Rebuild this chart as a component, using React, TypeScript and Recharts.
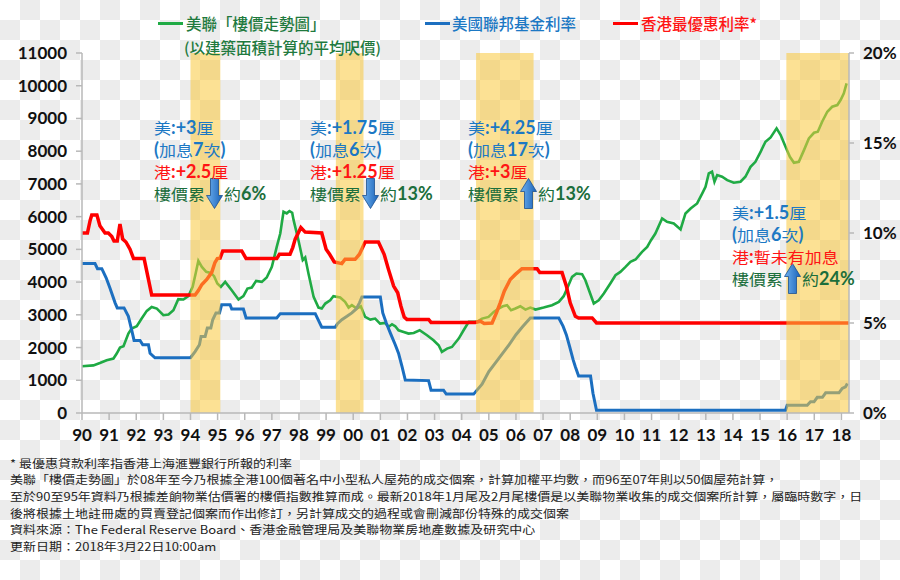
import React from "react";
import { LineChart, Line, XAxis, YAxis, ReferenceArea } from "recharts";

// ---------- data ----------
const yearTicks = [1990, 1991, 1992, 1993, 1994, 1995, 1996, 1997, 1998, 1999, 2000, 2001, 2002, 2003, 2004, 2005, 2006, 2007, 2008, 2009, 2010, 2011, 2012, 2013, 2014, 2015, 2016, 2017, 2018];
const priceTicks = [0, 1000, 2000, 3000, 4000, 5000, 6000, 7000, 8000, 9000, 10000, 11000];
const rateTicks = [0, 5, 10, 15, 20];

// 美聯「樓價走勢圖」 [year, 呎價]
const priceIndex: [number, number][] = [
  [1990.0, 1428], [1990.42, 1456], [1990.66, 1529], [1990.91, 1612], [1991.16, 1663], [1991.28, 1816], [1991.4, 2000], [1991.53, 2040],
  [1991.71, 2428], [1991.83, 2581], [1992.02, 2650], [1992.2, 2887], [1992.39, 3120], [1992.57, 3242], [1992.76, 3190], [1993.0, 2988],
  [1993.19, 3008], [1993.37, 3141], [1993.55, 3477], [1993.74, 3467], [1993.92, 3569], [1994.08, 3853], [1994.19, 4263], [1994.29, 4648],
  [1994.42, 4465], [1994.58, 4312], [1994.75, 4282], [1994.87, 4180], [1994.99, 3957], [1995.12, 3853], [1995.28, 4006], [1995.52, 3751],
  [1995.77, 3467], [1995.95, 3569], [1996.1, 3802], [1996.26, 3833], [1996.42, 4037], [1996.63, 4006], [1996.81, 4139], [1997.0, 4465],
  [1997.18, 5076], [1997.31, 5484], [1997.43, 6150], [1997.55, 6100], [1997.65, 6170], [1997.75, 6120], [1997.8, 5900], [1997.98, 5281],
  [1998.14, 4670], [1998.23, 4750], [1998.35, 4263], [1998.54, 3547], [1998.72, 3222], [1998.84, 3192], [1998.97, 3344], [1999.15, 3446],
  [1999.27, 3569], [1999.52, 3528], [1999.7, 3395], [1999.83, 3222], [1999.95, 3294], [2000.13, 3192], [2000.28, 3262], [2000.44, 2936],
  [2000.63, 2855], [2000.81, 2886], [2000.99, 2733], [2001.18, 2753], [2001.3, 2630], [2001.43, 2712], [2001.55, 2650], [2001.67, 2528],
  [2001.86, 2477], [2002.04, 2426], [2002.23, 2446], [2002.45, 2528], [2002.72, 2375], [2002.96, 2222], [2003.15, 2070], [2003.27, 1866],
  [2003.46, 1967], [2003.64, 2018], [2003.89, 2273], [2004.07, 2528], [2004.26, 2783], [2004.56, 2783], [2004.75, 2885], [2004.99, 2936],
  [2005.18, 3089], [2005.36, 3192], [2005.52, 3262], [2005.67, 3294], [2005.82, 3141], [2005.98, 3192], [2006.16, 3262], [2006.35, 3160],
  [2006.53, 3222], [2006.72, 3160], [2007.02, 3222], [2007.33, 3294], [2007.58, 3395], [2007.76, 3569], [2007.91, 3853], [2008.07, 4160],
  [2008.23, 4263], [2008.44, 4243], [2008.56, 4058], [2008.75, 3620], [2008.87, 3344], [2009.05, 3446], [2009.24, 3651], [2009.48, 3957],
  [2009.67, 4210], [2009.85, 4312], [2010.04, 4465], [2010.22, 4618], [2010.41, 4689], [2010.65, 4924], [2010.84, 5076], [2010.98, 5281],
  [2011.14, 5484], [2011.39, 5944], [2011.57, 5842], [2011.82, 5791], [2012.07, 5608], [2012.25, 6097], [2012.44, 6250], [2012.68, 6403],
  [2012.87, 6709], [2012.99, 6913], [2013.11, 7321], [2013.23, 7372], [2013.32, 7066], [2013.42, 7270], [2013.6, 7219], [2013.79, 7117],
  [2014.03, 7035], [2014.28, 7066], [2014.46, 7219], [2014.65, 7523], [2014.83, 7675], [2015.02, 7981], [2015.2, 8287], [2015.39, 8420],
  [2015.61, 8697], [2015.76, 8491], [2015.94, 8134], [2016.1, 7828], [2016.25, 7645], [2016.43, 7675], [2016.62, 8032], [2016.8, 8389],
  [2016.99, 8563], [2017.13, 8593], [2017.29, 8899], [2017.48, 9205], [2017.66, 9358], [2017.85, 9409], [2017.97, 9562], [2018.09, 9767],
  [2018.19, 10073],
];

// 美國聯邦基金利率 [year, %]
const fedFunds: [number, number][] = [
  [1990.0, 8.3], [1990.48, 8.3], [1990.57, 8.02], [1990.73, 8.02], [1990.89, 7.51], [1991.03, 6.95], [1991.22, 6.12], [1991.3, 5.84],
  [1991.55, 5.84], [1991.71, 5.37], [1991.83, 4.62], [1991.92, 4.03], [1992.14, 4.03], [1992.24, 3.79], [1992.45, 3.79], [1992.51, 3.32],
  [1992.69, 3.07], [1994.0, 3.07], [1994.17, 3.41], [1994.33, 3.79], [1994.39, 4.25], [1994.54, 4.25], [1994.62, 4.72], [1994.75, 4.72],
  [1994.82, 5.18], [1994.94, 5.56], [1995.07, 5.56], [1995.15, 6.02], [1995.46, 6.02], [1995.52, 5.78], [1995.95, 5.78], [1996.05, 5.28],
  [1997.18, 5.28], [1997.31, 5.52], [1998.6, 5.52], [1998.84, 4.77], [1999.34, 4.77], [1999.42, 4.96], [1999.58, 5.18], [1999.77, 5.37],
  [1999.95, 5.56], [2000.11, 5.78], [2000.23, 6.12], [2000.32, 6.45], [2001.0, 6.45], [2001.09, 5.56], [2001.22, 5.0], [2001.37, 4.44],
  [2001.55, 3.79], [2001.67, 3.32], [2001.8, 2.57], [2001.92, 1.83], [2002.78, 1.8], [2002.87, 1.27], [2003.33, 1.27], [2003.43, 1.05],
  [2004.44, 1.05], [2004.75, 1.6], [2005.0, 2.3], [2005.25, 2.8], [2005.5, 3.3], [2005.75, 3.8], [2006.0, 4.35], [2006.25, 4.8],
  [2006.53, 5.28], [2007.58, 5.28], [2007.74, 4.81], [2007.86, 4.34], [2007.98, 3.69], [2008.11, 2.95], [2008.19, 2.57], [2008.31, 2.05],
  [2008.75, 2.05], [2008.84, 1.1], [2008.97, 0.15], [2015.94, 0.15], [2016.0, 0.43], [2016.74, 0.43], [2016.86, 0.62], [2016.99, 0.62],
  [2017.11, 0.87], [2017.3, 0.87], [2017.42, 1.12], [2017.91, 1.12], [2018.03, 1.37], [2018.15, 1.45], [2018.22, 1.64],
];

// 香港最優惠利率 [year, %]
const hkPrime: [number, number][] = [
  [1990.0, 10.0], [1990.2, 10.0], [1990.3, 10.7], [1990.36, 11.0], [1990.55, 11.0], [1990.66, 10.4], [1990.85, 10.0], [1990.97, 10.0],
  [1991.1, 9.8], [1991.18, 9.56], [1991.3, 9.56], [1991.4, 10.5], [1991.5, 9.66], [1991.62, 9.5], [1991.77, 9.1], [1991.9, 8.58],
  [1992.29, 8.58], [1992.45, 7.42], [1992.57, 6.55], [1994.17, 6.55], [1994.29, 6.8], [1994.42, 7.14], [1994.6, 7.42], [1994.78, 7.8],
  [1994.9, 8.35], [1994.99, 8.58], [1995.09, 8.6], [1995.19, 9.0], [1995.89, 9.0], [1996.05, 8.58], [1997.18, 8.58], [1997.28, 8.82],
  [1997.67, 8.82], [1997.77, 9.19], [1997.86, 9.66], [1998.07, 10.3], [1998.23, 10.05], [1998.84, 10.0], [1999.0, 9.1], [1999.13, 8.82],
  [1999.3, 8.39], [1999.58, 8.3], [1999.7, 8.54], [2000.07, 8.54], [2000.23, 8.82], [2000.44, 9.5], [2000.93, 9.5], [2001.14, 8.82],
  [2001.3, 7.98], [2001.49, 7.05], [2001.64, 6.68], [2001.76, 5.93], [2001.88, 5.33], [2001.98, 5.2], [2002.78, 5.2], [2002.87, 5.03],
  [2004.5, 5.03], [2004.69, 5.1], [2004.83, 4.97], [2005.12, 5.0], [2005.28, 5.56], [2005.42, 6.12], [2005.57, 6.77], [2005.79, 7.42],
  [2005.98, 7.7], [2006.22, 8.02], [2006.78, 8.02], [2006.88, 7.8], [2007.7, 7.8], [2007.86, 7.05], [2008.0, 6.12], [2008.19, 5.37],
  [2008.31, 5.28], [2008.81, 5.28], [2008.97, 5.0], [2018.28, 5.0],
];

// 加息周期 (shaded)
const hikeStarts = [1994.0, 1999.36, 2004.53, 2015.97];
const hikeEnds = [1995.1, 2000.38, 2006.65, 2018.28];

const X_MIN = 1990;
const X_MAX = 2018.28;

const legendItems = [
  { label: "美聯「樓價走勢圖」", color: "#1f7a3e", line: "#1faa44" },
  { label: "美國聯邦基金利率", color: "#1c78c4", line: "#1c6fc0" },
  { label: "香港最優惠利率*", color: "#ff1414", line: "#ff0000" },
];

const footnotes = [
  "* 最優惠貸款利率指香港上海滙豐銀行所報的利率",
  "美聯「樓價走勢圖」於08年至今乃根據全港100個著名中小型私人屋苑的成交個案，計算加權平均數，而96至07年則以50個屋苑計算，",
  "至於90至95年資料乃根據差餉物業估價署的樓價指數推算而成。最新2018年1月尾及2月尾樓價是以美聯物業收集的成交個案所計算，屬臨時數字，日",
  "後將根據土地註冊處的買賣登記個案而作出修訂，另計算成交的過程或會刪減部份特殊的成交個案",
  "資料來源：The Federal Reserve Board、香港金融管理局及美聯物業房地產數據及研究中心",
  "更新日期：2018年3月22日10:00am",
];

const notes = [
  { left: 154, top: 116, us: "美:+3厘", times: "(加息7次)", hk: "港:+2.5厘", pre: "樓價累", up: false, post: "約6%" },
  { left: 310, top: 116, us: "美:+1.75厘", times: "(加息6次)", hk: "港:+1.25厘", pre: "樓價累", up: false, post: "約13%" },
  { left: 468, top: 116, us: "美:+4.25厘", times: "(加息17次)", hk: "港:+3厘", pre: "樓價累", up: true, post: "約13%" },
  { left: 732, top: 201, us: "美:+1.5厘", times: "(加息6次)", hk: "港:暫未有加息", pre: "樓價累", up: true, post: "約24%" },
];

// ---------- helpers ----------
const toRows = (pts: [number, number][]) => pts.map(([x, v]) => ({ x, v }));
const CJK = /([\u2E80-\u9FFF\uFF00-\uFFEF\u3000-\u303F]+)/;

function Rich({ text, size }: { text: string; size: number }) {
  const parts = text.split(CJK).filter((p) => p.length > 0);
  return (
    <>
      {parts.map((p, i) =>
        CJK.test(p) ? (
          <span
            key={i}
            style={{
              fontFamily: "'Noto Sans CJK TC'",
              fontWeight: 400,
              fontSize: size,
              display: "inline-block",
              lineHeight: 1,
              transform: "scaleY(0.89)",
            }}
          >
            {p}
          </span>
        ) : (
          <span key={i} style={{ fontFamily: "Lato", fontWeight: 700, fontSize: size + 1, display: "inline-block", lineHeight: 1 }}>{p}</span>
        )
      )}
    </>
  );
}

function Arrow({ up }: { up: boolean }) {
  const pts = up ? "8,0 16,13 12,13 12,30 4,30 4,13 0,13" : "4,0 12,0 12,17 16,17 8,30 0,17 4,17";
  return (
    <svg width={17} height={31} viewBox="-0.5 -0.5 17 31" style={{ display: "block", margin: "0 1px" }}>
      <defs>
        <linearGradient id={up ? "agu" : "agd"} x1="0" y1="0" x2="1" y2="0">
          <stop offset="0" stopColor="#6fb2f0" />
          <stop offset="1" stopColor="#1a62b8" />
        </linearGradient>
      </defs>
      <polygon points={pts} fill={`url(#${up ? "agu" : "agd"})`} stroke="#1a4f8f" strokeWidth={0.8} />
    </svg>
  );
}

const yearFmt = (v: number) => String(Math.round(v) % 100).padStart(2, "0");
const tickFont = { fill: "#111", fontSize: 17, fontWeight: 700, fontFamily: "Lato" };

export default function App() {
  return (
    <div
      style={{
        position: "absolute",
        left: 0,
        top: 0,
        width: 900,
        height: 580,
        overflow: "hidden",
        backgroundColor: "#fff",
        backgroundImage: "conic-gradient(#ececec 0 25%, #ffffff 0 50%, #ececec 0 75%, #ffffff 0)",
        backgroundSize: "40px 40px",
      }}
    >
      <div style={{ position: "absolute", left: 0, top: 0 }}>
        <LineChart width={900} height={580} margin={{ top: 53, right: 0, bottom: 137, left: 0 }}>
          <XAxis
            dataKey="x"
            type="number"
            xAxisId="x"
            domain={[X_MIN, X_MAX]}
            ticks={yearTicks}
            interval={0}
            tickFormatter={yearFmt}
            stroke="#b8b8b8"
            strokeWidth={1.5}
            tickSize={7}
            tickMargin={9}
            tick={tickFont}
            height={30}
          />
          <YAxis
            yAxisId="left"
            orientation="left"
            domain={[0, 11000]}
            ticks={priceTicks}
            interval={0}
            width={82}
            stroke="#b8b8b8"
            strokeWidth={1.5}
            tickSize={6}
            tickMargin={9}
            tick={tickFont}
          />
          <YAxis
            yAxisId="right"
            orientation="right"
            domain={[0, 20]}
            ticks={rateTicks}
            interval={0}
            width={51}
            tickFormatter={(v: number) => `${v}%`}
            stroke="#b8b8b8"
            strokeWidth={1.5}
            tickSize={5}
            tickMargin={9}
            tick={tickFont}
          />
          <Line data={toRows(priceIndex)} dataKey="v" xAxisId="x" yAxisId="left" type="linear" stroke="#1faa44" strokeWidth={2.6} dot={false} activeDot={false} isAnimationActive={false} />
          <Line data={toRows(fedFunds)} dataKey="v" xAxisId="x" yAxisId="right" type="linear" stroke="#1c6fc0" strokeWidth={3} dot={false} activeDot={false} isAnimationActive={false} />
          <Line data={toRows(hkPrime)} dataKey="v" xAxisId="x" yAxisId="right" type="linear" stroke="#ff0000" strokeWidth={3.5} dot={false} activeDot={false} isAnimationActive={false} />
          {hikeStarts.map((s, i) => (
            <ReferenceArea
              key={i}
              xAxisId="x"
              yAxisId="left"
              x1={s}
              x2={hikeEnds[i]}
              y1={0}
              y2={11000}
              fill="#f9c93c"
              fillOpacity={0.55}
              stroke="none"
              ifOverflow="visible"
              zIndex={450}
            />
          ))}
        </LineChart>
      </div>

      {/* legend */}
      <div style={{ position: "absolute", left: 158, top: 12, display: "flex", alignItems: "center", height: 22 }}>
        <div style={{ width: 25, height: 3, background: legendItems[0].line, marginRight: 3 }} />
        <span style={{ fontFamily: "'Noto Sans CJK TC'", fontWeight: 500, fontSize: 15.5, color: legendItems[0].color }}>{legendItems[0].label}</span>
      </div>
      <div style={{ position: "absolute", left: 184, top: 36, height: 22, display: "flex", alignItems: "center" }}>
        <span style={{ fontFamily: "'Noto Sans CJK TC'", fontWeight: 500, fontSize: 15.5, color: legendItems[0].color }}>(以建築面積計算的平均呎價)</span>
      </div>
      <div style={{ position: "absolute", left: 425, top: 12, display: "flex", alignItems: "center", height: 22 }}>
        <div style={{ width: 25, height: 3, background: legendItems[1].line, marginRight: 2 }} />
        <span style={{ fontFamily: "'Noto Sans CJK TC'", fontWeight: 500, fontSize: 15.5, color: legendItems[1].color }}>{legendItems[1].label}</span>
      </div>
      <div style={{ position: "absolute", left: 613, top: 12, display: "flex", alignItems: "center", height: 22 }}>
        <div style={{ width: 25, height: 3, background: legendItems[2].line, marginRight: 3 }} />
        <span style={{ fontFamily: "'Noto Sans CJK TC'", fontWeight: 500, fontSize: 15.5, color: legendItems[2].color }}>{legendItems[2].label}</span>
      </div>

      {/* annotations */}
      {notes.map((n, i) => (
        <div key={i} style={{ position: "absolute", left: n.left, top: n.top, whiteSpace: "nowrap" }}>
          <div style={{ color: "#1c78c4", height: 22, display: "flex", alignItems: "center" }}><Rich text={n.us} size={17} /></div>
          <div style={{ color: "#1c78c4", height: 22, display: "flex", alignItems: "center" }}><Rich text={n.times} size={17} /></div>
          <div style={{ color: "#ff1414", height: 22, display: "flex", alignItems: "center" }}><Rich text={n.hk} size={17} /></div>
          <div style={{ color: "#1b6e3c", height: 22, display: "flex", alignItems: "center" }}>
            <Rich text={n.pre} size={17} />
            <Arrow up={n.up} />
            <Rich text={n.post} size={17} />
          </div>
        </div>
      ))}

      {/* footnotes */}
      <div style={{ position: "absolute", left: 10, top: 455.6, fontFamily: "'Noto Sans CJK TC'", fontSize: 13, color: "#222", whiteSpace: "nowrap" }}>
        {footnotes.map((f, i) => (
          <div key={i} style={{ height: 16.7, lineHeight: "16.7px", transform: "scaleY(0.86)", transformOrigin: "0 50%" }}>{f}</div>
        ))}
      </div>
    </div>
  );
}
